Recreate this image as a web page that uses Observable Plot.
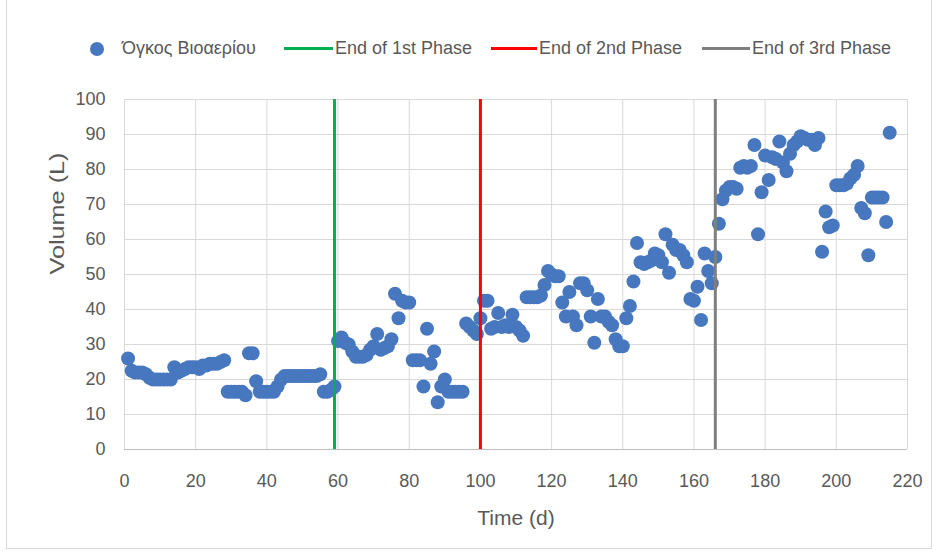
<!DOCTYPE html>
<html>
<head>
<meta charset="utf-8">
<script src="https://cdn.jsdelivr.net/npm/d3@7"></script>
<script src="https://cdn.jsdelivr.net/npm/@observablehq/plot@0.6"></script>
<style>
  html, body { margin: 0; padding: 0; background: #fff; }
  #wrap { position: relative; width: 938px; height: 555px; overflow: hidden; font-family: "Liberation Sans", Arial, sans-serif; color: #595959; }
  #frame { position: absolute; left: 6px; top: -2px; width: 926px; height: 551px; border: 1px solid #d9d9d9; box-sizing: border-box; }
  #chart { position: absolute; left: 0; top: 80px; }
  .leg { position: absolute; top: 38px; height: 20px; line-height: 20px; font-size: 18px; white-space: nowrap; }
  .sw { position: absolute; top: 46.5px; height: 3px; }
</style>
</head>
<body>
<div id="wrap">
  <div id="frame"></div>
  <div id="legend"></div>
  <div id="chart"></div>
</div>
<script>
// ---- data ----
const days = [
  1,2,3,4,5,6,7,8,9,10,11,12,13,14,15,16,17,18,19,20,
  21,22,23,24,25,26,27,28,29,30,31,32,33,34,35,36,37,38,39,40,
  41,42,43,44,45,46,47,48,49,50,51,52,53,54,55,56,57,58,59,60,
  61,62,63,64,65,66,67,68,69,70,71,72,73,74,75,76,77,78,79,80,
  81,82,83,84,85,86,87,88,89,90,91,92,93,94,95,96,97,98,99,100,
  101,102,103,104,105,106,107,108,109,110,111,112,113,114,115,116,117,118,119,120,
  121,122,123,124,125,126,127,128,129,130,131,132,133,134,135,136,137,138,139,140,
  141,142,143,144,145,146,147,148,149,150,151,152,153,154,155,156,157,158,159,160,
  161,162,163,164,165,166,167,168,169,170,171,172,173,174,175,176,177,178,179,180,
  181,182,183,184,185,186,187,188,189,190,191,192,193,194,195,196,197,198,199,200,
  201,202,203,204,205,206,207,208,209,210,211,212,213,214,215
];
const volumes = [
  26,22.5,22,22,22,21.5,20.5,20,20,20,20,20,20,23.5,22,22.5,23,23.5,23.5,23.5,
  23,24,24,24.5,24.5,24.5,25,25.5,16.5,16.5,16.5,16.5,16.5,15.5,27.5,27.5,19.5,16.5,16.5,16.5,
  16.5,16.5,18,20,21,21,21,21,21,21,21,21,21,21,21.5,16.5,16.5,17,18,31,
  32,30.5,30,28,26.5,26.5,26.5,27,28.5,29.5,33,28.5,29,29.5,31.5,44.5,37.5,42.5,42,42,
  25.5,25.5,25.5,18,34.5,24.5,28,13.5,18,20,16.5,16.5,16.5,16.5,16.5,36,35,34,33,37.5,
  42.5,42.5,34.5,35,39,35,35.5,35,38.5,35,34,32.5,43.5,43.5,43.5,43.5,44,47,51,50,
  49.5,49.5,42,38,45,38,35.5,47.5,47.5,45.5,38,30.5,43,38,38,36.5,35.5,31.5,29.5,29.5,
  37.5,41,48,59,53.5,53,53.5,54,56,55.5,53.5,61.5,50.5,58.5,57,57,55.5,53.5,43,42.5,
  46.5,37,56,51,47.5,55,64.5,71.5,74,75,75,74.5,80.5,81,80.5,81,87,61.5,73.5,84,
  77,83.5,83,88,82,79.5,84.5,87,88,89.5,89,88.5,88.5,87,89,56.5,68,63.5,64,75.5,
  75.5,75.5,76,77.5,78.5,81,69,67.5,55.5,72,72,72,72,65,90.5
];
const seriesName = "Όγκος Βιοαερίου";
const phaseDays = [59, 100, 166];
const phaseNames = ["End of 1st Phase", "End of 2nd Phase", "End of 3rd Phase"];
const phaseColors = ["#00b050", "#ff0000", "#7f7f7f"];
const xTicks = [0, 20, 40, 60, 80, 100, 120, 140, 160, 180, 200, 220];
const yTicks = [0, 10, 20, 30, 40, 50, 60, 70, 80, 90, 100];
const xTitle = "Time (d)";
const yTitle = "Volume (L)";

const dotColor = "#4777be";
const points = days.map((d, i) => ({day: d, vol: volumes[i]}));
const phases = phaseDays.map((d, i) => ({day: d, name: phaseNames[i], color: phaseColors[i]}));

// ---- legend (HTML) ----
const legend = document.getElementById("legend");
const legendItems = [
  {type: "dot", sx: 89.5, tx: 122, text: seriesName, color: dotColor},
  {type: "line", sx: 284, sw: 49, tx: 335, text: phaseNames[0], color: phaseColors[0]},
  {type: "line", sx: 491, sw: 46, tx: 539, text: phaseNames[1], color: phaseColors[1]},
  {type: "line", sx: 702, sw: 48, tx: 752, text: phaseNames[2], color: phaseColors[2]}
];
for (const it of legendItems) {
  const s = document.createElement("div");
  if (it.type === "dot") {
    s.style.cssText = `position:absolute;left:${it.sx}px;top:41.5px;width:14px;height:14px;border-radius:50%;background:${it.color};`;
  } else {
    s.className = "sw";
    s.style.left = it.sx + "px";
    s.style.width = it.sw + "px";
    s.style.background = it.color;
  }
  legend.appendChild(s);
  const t = document.createElement("div");
  t.className = "leg";
  t.style.left = it.tx + "px";
  t.textContent = it.text;
  legend.appendChild(t);
}

// ---- chart ----
const chart = Plot.plot({
  width: 938,
  height: 470,
  marginTop: 19,
  marginBottom: 101,
  marginLeft: 124,
  marginRight: 31,
  style: {fontFamily: "Liberation Sans, Arial, sans-serif", fontSize: "18px", color: "#595959", background: "transparent"},
  x: {domain: [0, 220]},
  y: {domain: [0, 100]},
  marks: [
    Plot.gridX(xTicks, {stroke: "#d9d9d9", strokeOpacity: 1, strokeWidth: 1}),
    Plot.gridY(yTicks, {stroke: "#d9d9d9", strokeOpacity: 1, strokeWidth: 1}),
    Plot.ruleY([0], {stroke: "#bfbfbf", strokeWidth: 1}),
    Plot.axisX(xTicks, {tickSize: 0, tickPadding: 25, label: null, fill: "#595959", fontSize: 18}),
    Plot.axisY(yTicks, {tickSize: 0, tickPadding: 19, label: null, fill: "#595959", fontSize: 18}),
    Plot.dot(points, {x: "day", y: "vol", r: 7, fill: dotColor, stroke: "none"}),
    Plot.ruleX(phases, {x: "day", y1: 0, y2: 100, stroke: "color", strokeWidth: 3}),
    Plot.text([xTitle], {frameAnchor: "bottom", dy: 75, fontSize: 21, fill: "#595959"}),
    Plot.text([yTitle], {frameAnchor: "left", dx: -67, rotate: -90, fontSize: 21, fill: "#595959"})
  ]
});
document.getElementById("chart").appendChild(chart);
// stretch the vertical title to the reference's length
chart.querySelectorAll("text").forEach(t => {
  if (t.textContent === yTitle) {
    t.setAttribute("textLength", 122);
    t.setAttribute("lengthAdjust", "spacingAndGlyphs");
  }
});
</script>
</body>
</html>
